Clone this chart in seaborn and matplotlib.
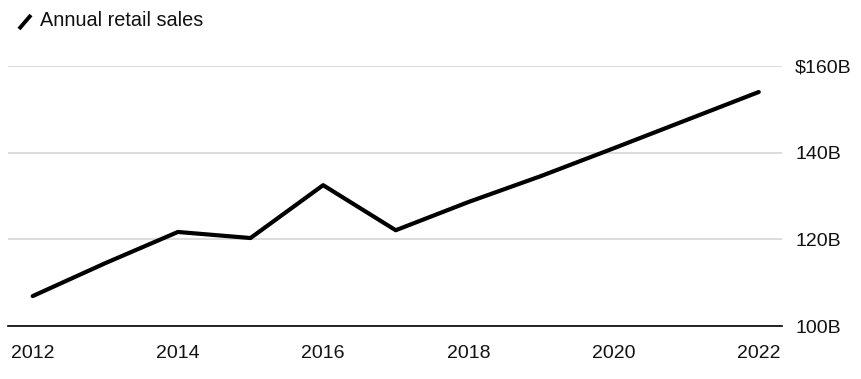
import matplotlib
matplotlib.use("Agg")
import matplotlib.pyplot as plt
from matplotlib.lines import Line2D
import seaborn as sns
import pandas as pd

years = [2012, 2013, 2014, 2015, 2016, 2017, 2018, 2019, 2020, 2021, 2022]
sales = [106.9, 114.5, 121.7, 120.3, 132.5, 122.1, 128.6, 134.6, 141.0, 147.5, 154.0]
x_ticks = [2012, 2014, 2016, 2018, 2020, 2022]
y_ticks = [100, 120, 140, 160]
y_labels = ["100B", "120B", "140B", "$160B"]
series_name = "Annual retail sales"

sns.set_style("white")
plt.rcParams['font.family'] = ['Liberation Sans', 'DejaVu Sans']

W, H = 862, 379
fig = plt.figure(figsize=(W / 100, H / 100), dpi=100)
ax = fig.add_axes([8 / W, (H - 326) / H, 774 / W, 260 / H])

df = pd.DataFrame({"year": years, "sales": sales})
sns.lineplot(data=df, x="year", y="sales", ax=ax, color="black", linewidth=3.0,
             legend=False, clip_on=False)

ax.set_xlim(2011.66, 2022.32)
ax.set_ylim(100, 160)
ax.set_xlabel("")
ax.set_ylabel("")

for s in ["top", "left", "right"]:
    ax.spines[s].set_visible(False)
ax.spines["bottom"].set_color("black")
ax.spines["bottom"].set_linewidth(1.2)
ax.spines["bottom"].set_zorder(3)

ax.set_xticks(x_ticks)
ax.set_xticklabels([str(x) for x in x_ticks])
ax.tick_params(axis="x", direction="out", length=4.5, width=1, color="black",
               pad=9, labelsize=14, labelcolor="#111111")

ax.yaxis.tick_right()
ax.set_yticks(y_ticks)
ax.set_yticklabels(y_labels)
ax.tick_params(axis="y", length=0, pad=9.5, labelsize=14, labelcolor="#111111")
for lab in ax.get_yticklabels():
    lab.set_horizontalalignment("left")

ax.grid(axis="y", color="#d9d9d9", linewidth=1.3)
ax.grid(axis="x", visible=False)
ax.set_axisbelow(True)

# legend entry
fig.add_artist(Line2D([19 / W, 31 / W], [(H - 29) / H, (H - 15) / H],
                      transform=fig.transFigure, color="black", linewidth=2.8,
                      solid_capstyle="butt"))
fig.text(40 / W, (H - 21) / H, series_name, fontsize=14.3, color="#111111",
         ha="left", va="center")

fig.savefig("out.png", dpi=100)
